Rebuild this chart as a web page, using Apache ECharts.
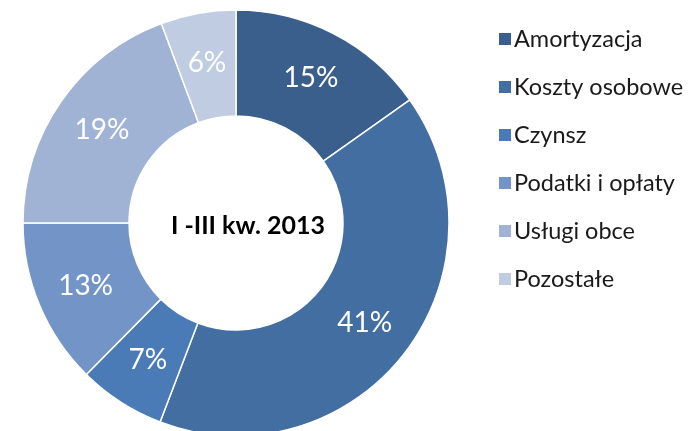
<!DOCTYPE html>
<html>
<head>
<meta charset="utf-8">
<script src="https://cdn.jsdelivr.net/npm/echarts@6/dist/echarts.min.js"></script>
<style>
html, body { margin: 0; padding: 0; background: #fff; }
#chart { width: 689px; height: 431px; }
</style>
</head>
<body>
<div id="chart"></div>
<script>
var categories = ['Amortyzacja', 'Koszty osobowe', 'Czynsz', 'Podatki i opłaty', 'Usługi obce', 'Pozostałe'];
var values = [15.2, 40.6, 6.6, 12.6, 19.3, 5.7];
var colors = ['#3b5f8c', '#436ea2', '#4a7bb6', '#7394c6', '#a0b3d4', '#c0cce2'];
var centerTitle = 'I -III kw. 2013';

var myChart = echarts.init(document.getElementById('chart'));
var pieData = [];
categories.forEach(function(c, i){
    pieData.push({name: c, value: values[i], itemStyle: {color: colors[i]}});
});

var option = {
    animation: false,
    title: {
        text: centerTitle,
        left: 243,
        top: 221,
        textAlign: 'center',
        textVerticalAlign: 'middle',
        textStyle: {
            fontFamily: 'Lato',
            fontWeight: 'bold',
            fontSize: 25,
            color: '#000'
        }
    },
    legend: {
        orient: 'vertical',
        left: 492,
        top: 22,
        icon: 'rect',
        itemWidth: 14,
        itemHeight: 14,
        itemGap: 24,
        data: categories,
        textStyle: {
            fontFamily: 'Lato',
            fontSize: 23.5,
            color: '#1a1a1a',
            padding: [0, 0, 0, -3]
        }
    },
    series: [
        {
            type: 'pie',
            center: [236, 223],
            radius: [107, 213],
            startAngle: 90,
            clockwise: true,
            data: pieData,
            itemStyle: {
                borderColor: '#fff',
                borderWidth: 1.5
            },
            label: {
                position: 'inside',
                formatter: function(p){ return Math.round(p.percent) + '%'; },
                fontFamily: 'Lato',
                fontSize: 28,
                color: '#fff'
            },
            labelLine: {show: false},
            emphasis: {disabled: true}
        }
    ]
};

myChart.setOption(option);
</script>
</body>
</html>
